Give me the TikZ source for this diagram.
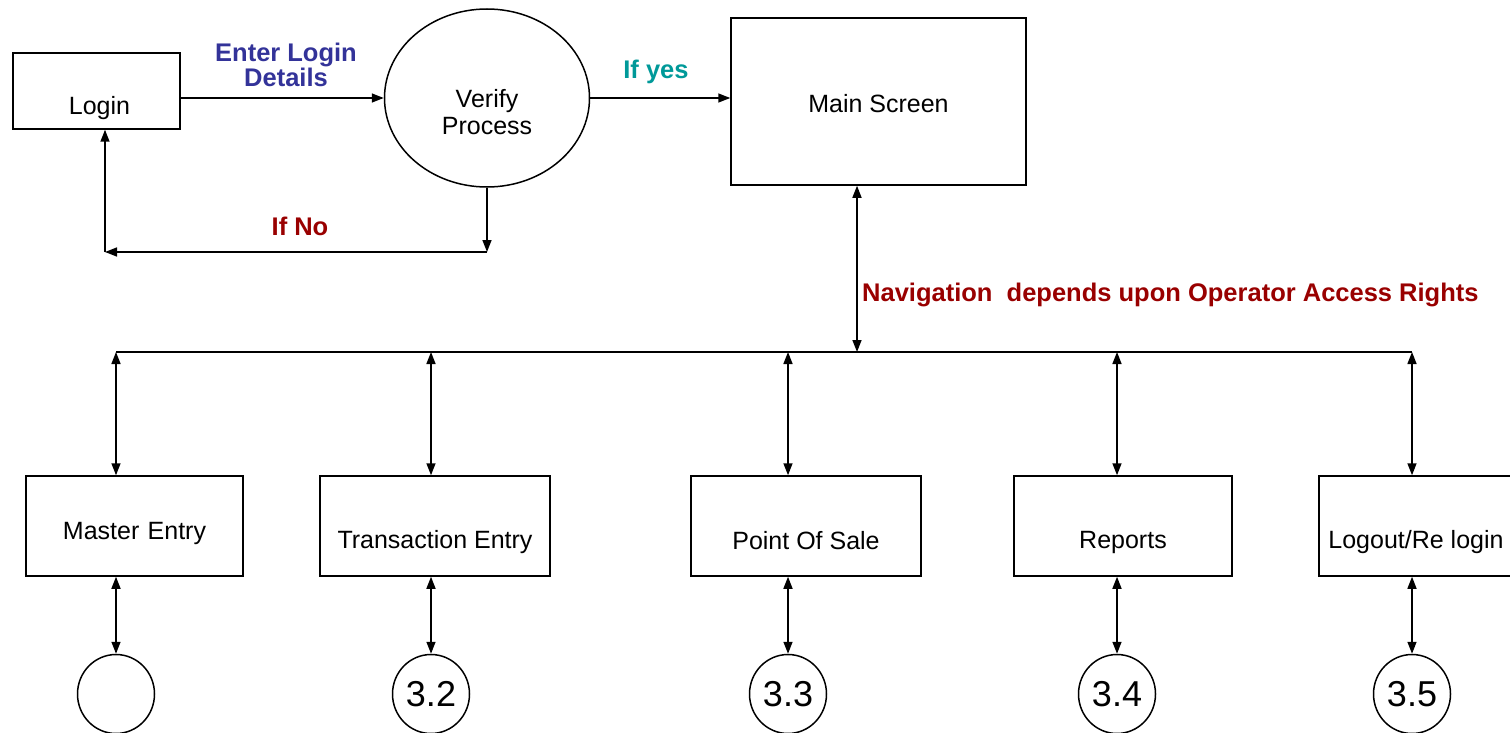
\documentclass[tikz,border=0pt]{standalone}
\usepackage{fontspec}
\setmainfont{Liberation Sans}
\usetikzlibrary{arrows.meta,shapes.geometric}
\definecolor{lblue}{RGB}{51,51,153}
\definecolor{lteal}{RGB}{0,153,153}
\definecolor{lred}{RGB}{153,0,0}
\begin{document}
\begin{tikzpicture}[x=1pt,y=-1pt,
  box/.style={draw,line width=1.5pt,rectangle,inner sep=0pt},
  proc/.style={draw,line width=1.5pt,ellipse,inner sep=0pt},
  txt/.style={font=\fontsize{25}{27}\selectfont,inner sep=0pt},
  num/.style={font=\fontsize{36}{40}\selectfont},
  bl/.style={font=\bfseries\fontsize{25.5}{25}\selectfont,inner sep=0pt,align=center},
  conn/.style={line width=1.5pt,-{Triangle[length=12pt,width=9pt]}},
  dconn/.style={line width=1.5pt,{Triangle[length=12pt,width=9pt]}-{Triangle[length=12pt,width=9pt]}}]
\useasboundingbox (0,0) rectangle (1510,733);

% top row
\node[box,minimum width=167pt,minimum height=76pt,
  label={[txt,xshift=3pt,yshift=-17pt]center:Login}] (login) at (96.5,91) {};
\node[proc,minimum width=205pt,minimum height=178pt,
  label={[txt,align=center,yshift=-14pt]center:{Verify\\Process}}] (verify) at (487,98) {};
\node[box,minimum width=295pt,minimum height=167pt,
  label={[txt,yshift=-2pt]center:Main Screen}] (main) at (878.5,101.5) {};

% bottom boxes
\node[box,minimum width=217pt,minimum height=100pt,
  label={[txt,yshift=-7pt]center:Master\,\,Entry}] (master) at (134.5,526) {};
\node[box,minimum width=230pt,minimum height=100pt,
  label={[txt,yshift=-16pt]center:Transaction Entry}] (trans) at (435,526) {};
\node[box,minimum width=230pt,minimum height=100pt,
  label={[txt,yshift=-15pt]center:Point Of Sale}] (pos) at (806,526) {};
\node[box,minimum width=218pt,minimum height=100pt,
  label={[txt,yshift=-16pt]center:Reports}] (rep) at (1123,526) {};
\node[box,minimum width=194pt,minimum height=100pt,
  label={[txt,yshift=-16pt]center:Logout/Re login}] (logout) at (1416,526) {};

% circles
\node[proc,minimum width=77pt,minimum height=79pt,num] (c1) at (116,694) {};
\node[proc,minimum width=77pt,minimum height=79pt,num] (c2) at (431,694) {3.2};
\node[proc,minimum width=77pt,minimum height=79pt,num] (c3) at (788,694) {3.3};
\node[proc,minimum width=77pt,minimum height=79pt,num] (c4) at (1117,694) {3.4};
\node[proc,minimum width=77pt,minimum height=79pt,num] (c5) at (1412,694) {3.5};

% top connectors
\draw[conn] (login.east |- verify.west) -- (verify.west);
\draw[conn] (verify.east) -- (verify.east -| main.west);
\coordinate (n1) at (487,252);
\coordinate (n2) at (105,252);
\draw[conn] (verify.south) -- (n1);
\draw[conn] (n1) -- (n2);
\draw[conn] (n2) -- (login.south -| n2);

% labels
\node[bl,text=lblue] (lbl1) at (286,65) {Enter Login\\Details};
\node[bl,text=lteal] (lbl2) at (656,72) {If yes};
\node[bl,text=lred] (lbl3) at (300,226) {If No};
\node[bl,text=lred,anchor=west] (lbl4) at (862,295) {Navigation\ \ depends upon Operator Access Rights};

% bus
\coordinate (b1) at (116,352);
\coordinate (b2) at (431,352);
\coordinate (b3) at (788,352);
\coordinate (b4) at (1117,352);
\coordinate (b5) at (1412,352);
\coordinate (nav) at (857,352);
\draw[line width=1.8pt] (b1) -- (b5);
\draw[dconn] (main.south -| nav) -- (nav);

\draw[dconn] (b1) -- (b1 |- master.north);
\draw[dconn] (b2) -- (b2 |- trans.north);
\draw[dconn] (b3) -- (b3 |- pos.north);
\draw[dconn] (b4) -- (b4 |- rep.north);
\draw[dconn] (b5) -- (b5 |- logout.north);

\draw[dconn] (master.south -| c1) -- (c1.north);
\draw[dconn] (trans.south -| c2) -- (c2.north);
\draw[dconn] (pos.south -| c3) -- (c3.north);
\draw[dconn] (rep.south -| c4) -- (c4.north);
\draw[dconn] (logout.south -| c5) -- (c5.north);
\end{tikzpicture}
\end{document}
